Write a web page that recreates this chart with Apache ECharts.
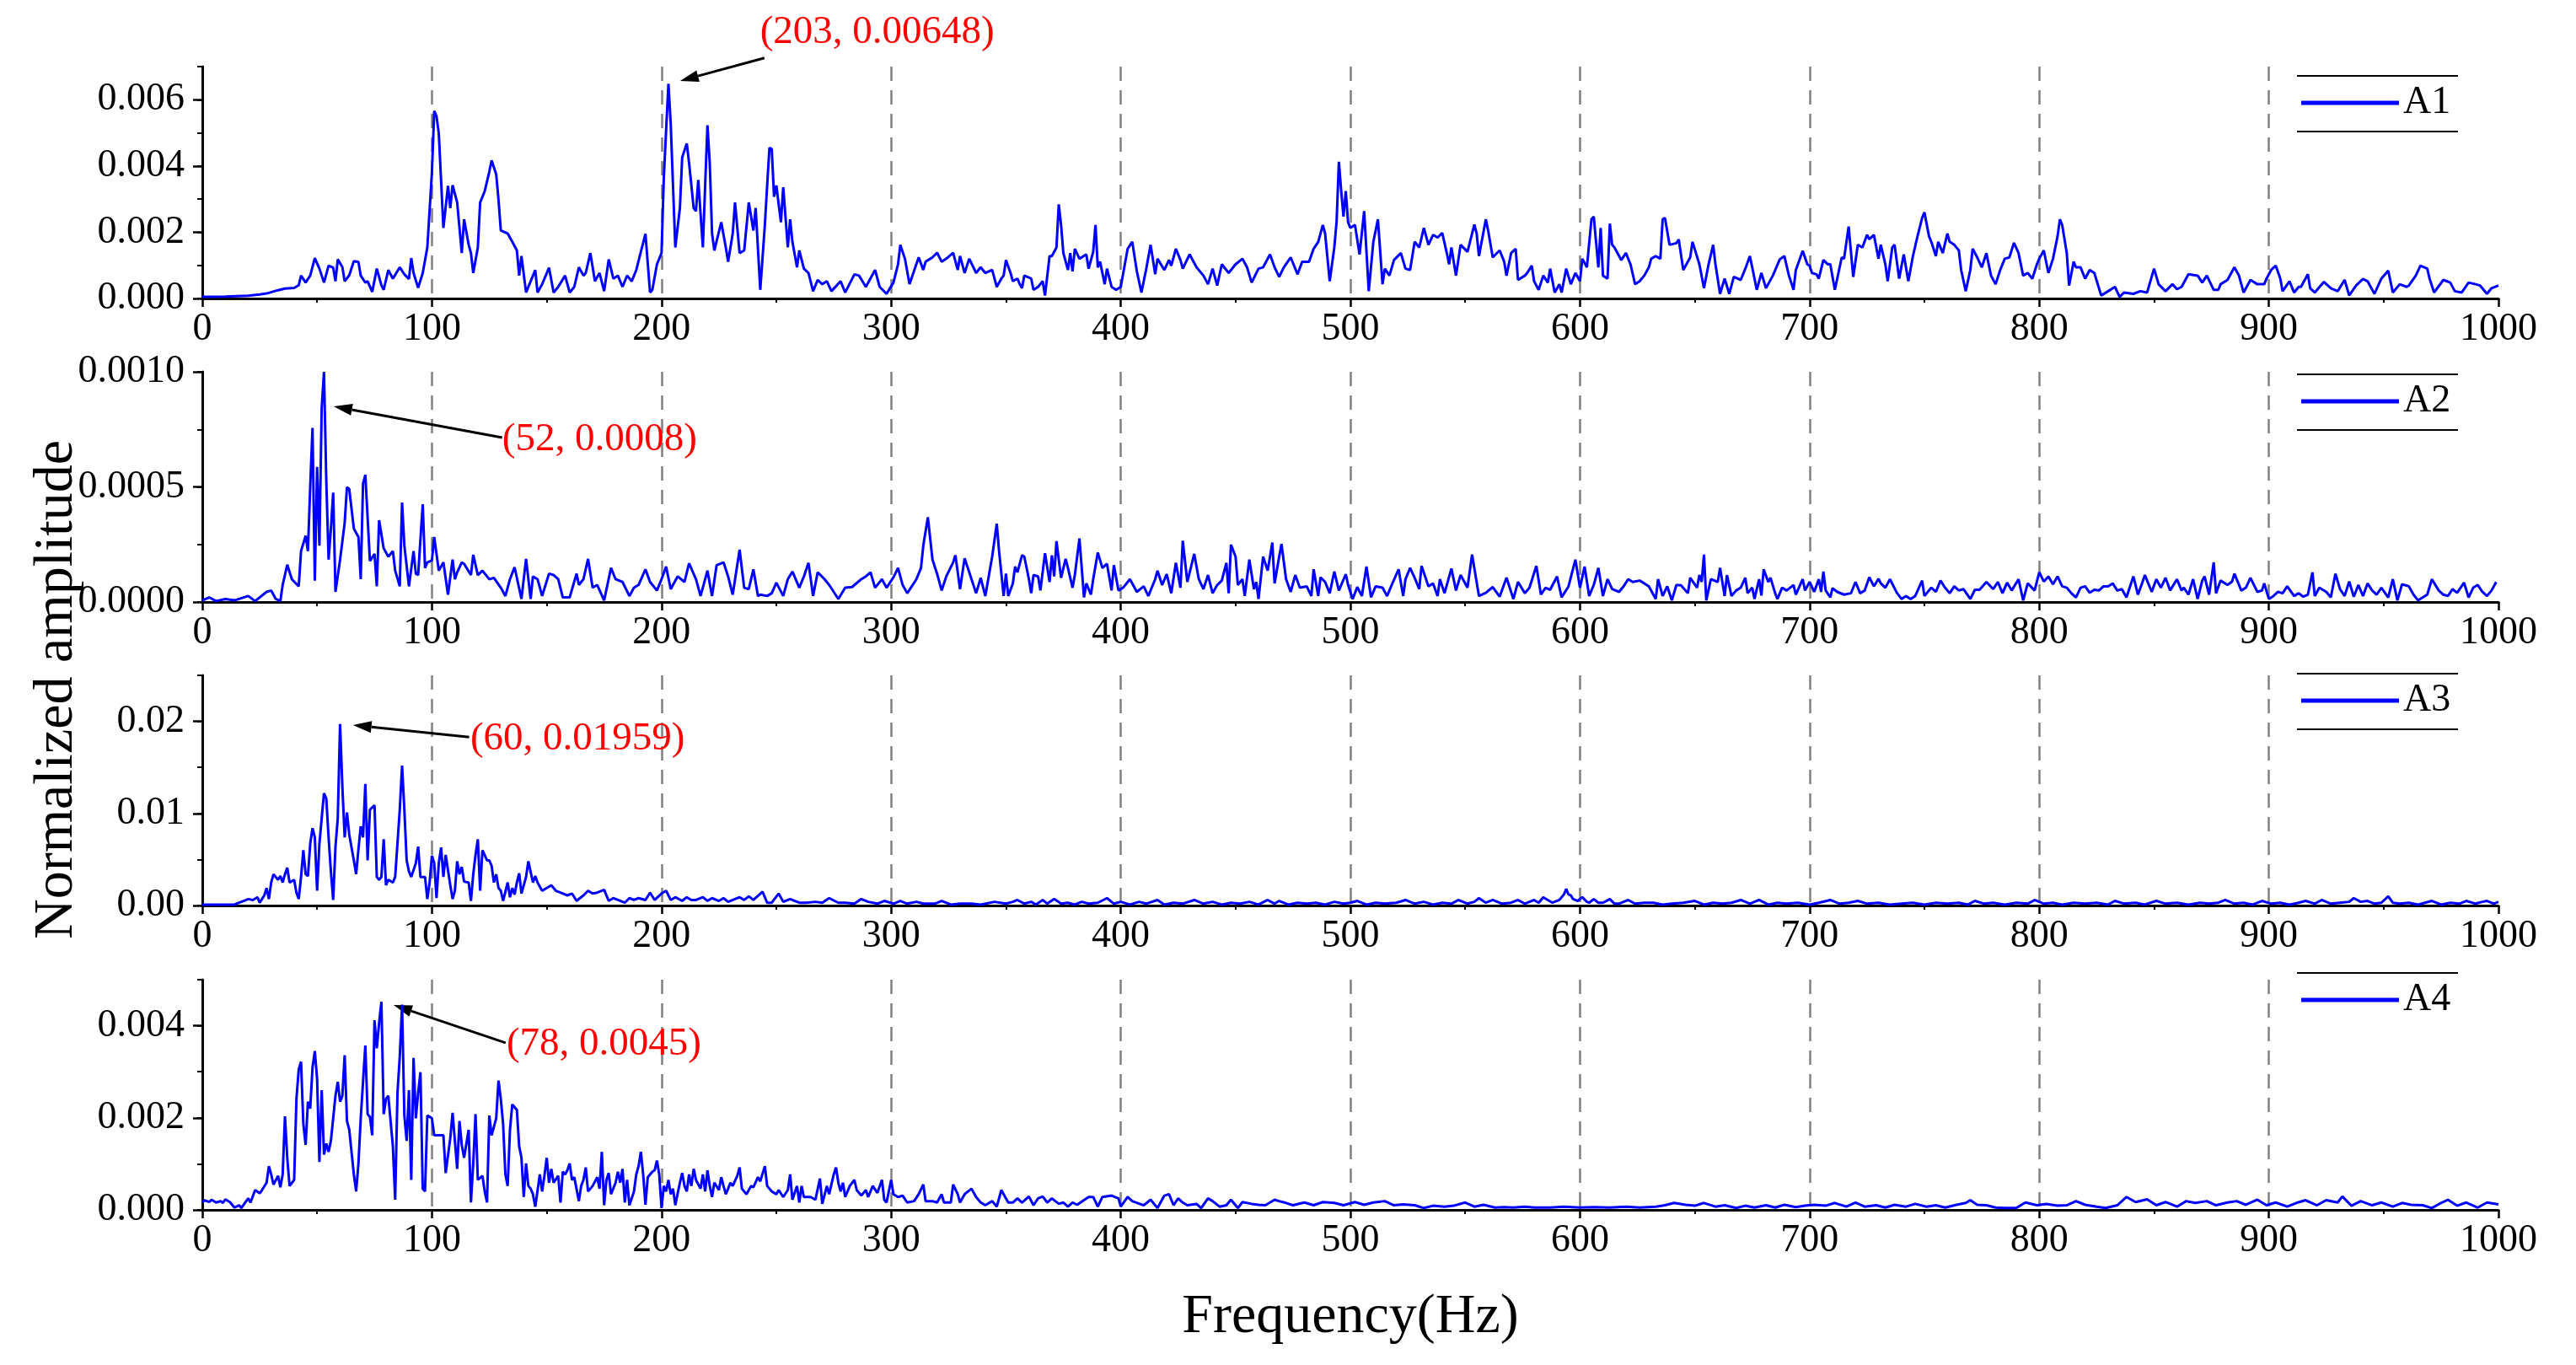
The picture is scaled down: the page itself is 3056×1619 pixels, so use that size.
<!DOCTYPE html>
<html>
<head>
<meta charset="utf-8">
<title>Normalized amplitude spectra A1-A4</title>
<script src="https://cdn.jsdelivr.net/npm/echarts@6/dist/echarts.min.js"></script>
<style>
  html, body { margin: 0; padding: 0; background: #fff; }
  #chart { width: 3056px; height: 1619px; }
</style>
</head>
<body>
<div id="chart"></div>
<script>
// Spectra as [frequency Hz, amplitude] pairs.
// Amplitudes are integers in the unit given in ampUnits (A1: 1e-5, A2: 1e-6, A3: 1e-4, A4: 1e-5).
const seriesNames = ['A1', 'A2', 'A3', 'A4'];
const ampUnits = [1e-5, 1e-6, 1e-4, 1e-5];

const A1 = [
  [0,5],[10,6],[20,8],[25,12],[28,15],[33,25],[36,30],[40,32],[42,40],[43,69],[45,48],[47,69],[49,122],[51,90],[53,48],[55,99],[57,93],[58,52],[59,118],[61,95],
  [62,52],[64,70],[66,113],[68,110],[69,69],[71,48],[72,52],[74,20],[76,90],[78,40],[79,26],[81,86],[83,60],[86,94],[88,73],[90,59],[91,122],[92,77],[94,32],[96,77],
  [98,154],[100,380],[101,566],[102,550],[103,498],[105,213],[107,340],[108,273],[109,342],[111,290],[113,137],[114,239],[116,162],[117,137],[118,77],[120,154],[121,290],[123,324],[125,383],[126,417],
  [128,375],[129,298],[130,205],[133,196],[135,171],[137,145],[138,69],[139,128],[141,18],[143,52],[145,86],[146,18],[148,43],[151,93],[153,18],[155,35],[158,69],[160,18],[162,35],[164,94],
  [166,69],[167,77],[169,137],[171,52],[173,77],[175,22],[177,118],[179,60],[181,69],[183,35],[185,69],[187,52],[189,86],[191,141],[193,195],[195,18],[196,26],[198,103],[200,137],[201,366],
  [203,648],[204,528],[206,154],[208,273],[209,426],[211,468],[212,409],[214,273],[215,264],[216,358],[218,154],[219,341],[220,523],[221,409],[222,196],[223,145],[226,230],[228,154],[229,111],[231,196],
  [232,290],[234,137],[236,145],[238,290],[240,205],[241,273],[243,26],[245,222],[246,341],[247,455],[248,451],[249,307],[250,341],[252,230],[253,336],[255,154],[256,239],[257,171],[259,94],[260,145],
  [262,90],[264,77],[266,22],[268,56],[270,43],[272,52],[274,22],[278,52],[280,18],[284,73],[286,69],[289,35],[293,86],[295,35],[298,14],[301,48],[303,103],[304,162],[306,120],[308,43],
  [312,124],[314,86],[315,111],[318,124],[320,138],[322,111],[324,120],[327,138],[329,86],[330,128],[332,77],[334,120],[337,77],[339,94],[341,77],[344,86],[346,35],[348,60],[349,69],[350,116],
  [352,77],[353,52],[355,60],[356,43],[357,31],[358,69],[361,60],[362,26],[364,35],[366,52],[367,9],[369,128],[370,128],[372,154],[373,284],[374,222],[375,137],[377,86],[378,137],[379,82],
  [380,150],[382,120],[385,133],[386,90],[388,141],[389,222],[390,94],[391,111],[393,43],[394,90],[396,35],[398,26],[400,35],[403,150],[405,171],[407,82],[409,18],[411,86],[413,162],[415,73],
  [416,120],[419,86],[421,116],[422,99],[424,150],[426,116],[427,90],[430,133],[433,94],[436,69],[438,43],[440,90],[442,39],[444,103],[447,77],[450,103],[453,120],[455,94],[457,48],[460,90],
  [462,94],[465,133],[467,94],[469,65],[471,94],[474,124],[477,73],[479,111],[482,111],[484,150],[486,171],[488,222],[489,196],[491,52],[493,154],[494,232],[495,413],[496,324],[497,247],[498,324],
  [499,230],[500,213],[502,222],[504,133],[506,264],[508,22],[510,171],[512,239],[514,43],[515,90],[517,69],[519,116],[522,137],[524,90],[526,86],[528,171],[530,154],[532,213],[534,162],[536,192],
  [538,184],[540,198],[542,137],[543,103],[544,154],[546,69],[548,162],[551,141],[554,223],[555,196],[556,128],[559,239],[560,205],[562,124],[565,145],[567,111],[568,69],[570,137],[572,150],[573,56],
  [576,69],[577,77],[579,99],[580,52],[582,26],[584,69],[586,48],[587,90],[589,18],[591,43],[592,18],[594,90],[596,43],[598,77],[600,52],[601,120],[603,94],[605,239],[606,247],[608,94],
  [609,213],[610,69],[612,60],[613,226],[614,162],[615,154],[618,116],[620,137],[622,103],[624,43],[626,52],[628,69],[630,94],[631,120],[633,128],[635,120],[636,239],[637,243],[639,162],[642,167],
  [643,178],[645,86],[648,124],[649,171],[652,103],[654,31],[656,103],[658,162],[659,103],[661,14],[663,60],[665,14],[667,65],[670,56],[672,90],[674,128],[677,26],[679,77],[681,31],[684,69],
  [687,118],[689,128],[691,69],[693,26],[694,86],[697,144],[699,103],[700,99],[701,77],[703,73],[704,60],[706,116],[708,103],[709,104],[711,26],[714,124],[715,120],[717,217],[719,65],[721,162],
  [723,154],[725,192],[726,179],[728,192],[730,120],[731,162],[733,103],[734,52],[736,154],[737,162],[739,60],[741,133],[743,52],[745,128],[747,188],[749,243],[750,260],[752,188],[753,171],[755,128],
  [756,171],[758,137],[760,196],[761,171],[763,162],[765,145],[766,86],[768,22],[770,86],[771,150],[773,124],[775,94],[777,137],[779,69],[781,43],[783,86],[785,120],[787,124],[789,168],[791,137],
  [793,69],[795,77],[797,60],[799,103],[800,120],[802,145],[804,77],[806,120],[808,188],[809,239],[810,222],[812,137],[813,39],[815,111],[816,94],[818,94],[820,60],[822,86],[824,77],[827,9],
  [830,22],[833,35],[835,5],[837,18],[841,14],[844,22],[847,18],[850,90],[852,43],[855,22],[858,43],[860,28],[862,35],[865,73],[869,69],[871,48],[873,69],[876,26],[878,26],[879,43],
  [882,56],[885,94],[887,69],[889,18],[892,56],[895,43],[898,43],[899,60],[901,86],[903,99],[905,60],[906,22],[909,52],[911,18],[913,35],[914,35],[917,73],[918,31],[920,18],[924,50],
  [927,31],[930,22],[933,56],[935,9],[938,39],[941,59],[943,52],[946,14],[949,60],[952,84],[954,18],[957,43],[960,35],[961,39],[964,69],[966,99],[969,90],[970,60],[972,18],[976,56],
  [979,48],[981,22],[984,18],[987,48],[990,43],[992,39],[995,14],[997,31],[1000,39]
];

const A2 = [
  [0,7],[3,20],[6,4],[10,13],[14,7],[20,26],[23,4],[28,44],[30,50],[32,13],[34,4],[35,74],[37,162],[39,99],[42,68],[43,221],[45,288],[46,221],[47,502],[48,756],
  [49,93],[50,587],[51,245],[52,844],[53,1000],[54,526],[55,184],[56,319],[57,475],[58,44],[60,184],[62,343],[63,499],[64,490],[66,319],[68,282],[69,99],[70,514],[71,553],[73,178],
  [75,209],[76,68],[77,355],[79,233],[81,197],[83,221],[84,136],[86,68],[87,432],[88,245],[90,68],[92,221],[93,123],[94,117],[96,425],[97,148],[98,172],[100,181],[101,282],[103,136],
  [105,172],[107,32],[109,184],[110,99],[111,129],[113,172],[114,166],[117,117],[118,205],[120,117],[122,136],[125,99],[127,105],[130,62],[132,26],[134,99],[136,151],[139,13],[141,187],[143,13],
  [144,111],[146,99],[148,26],[151,123],[153,117],[155,99],[157,20],[160,20],[163,123],[164,74],[166,99],[168,187],[170,62],[172,74],[175,7],[178,148],[180,99],[183,87],[186,26],[188,62],
  [190,74],[193,142],[195,87],[198,50],[200,99],[202,154],[204,56],[207,111],[210,87],[212,168],[215,99],[217,26],[220,136],[222,26],[224,160],[227,172],[229,111],[231,32],[234,227],[236,62],
  [238,56],[240,142],[242,26],[243,32],[246,26],[248,38],[250,84],[253,26],[255,99],[257,132],[260,62],[262,111],[264,170],[266,26],[268,129],[271,99],[273,74],[277,13],[280,62],[283,65],
  [287,99],[289,111],[291,129],[293,62],[296,99],[298,62],[301,107],[303,148],[305,74],[307,38],[311,99],[313,148],[314,245],[316,368],[318,184],[320,123],[322,50],[324,111],[327,172],[328,203],
  [330,56],[332,190],[335,99],[337,38],[339,105],[341,26],[344,197],[346,340],[347,221],[349,26],[350,123],[351,26],[353,81],[354,154],[355,129],[357,203],[358,197],[360,99],[361,38],[362,117],
  [364,111],[365,50],[367,212],[369,87],[370,203],[371,111],[372,264],[374,105],[376,187],[377,148],[379,62],[380,117],[382,276],[384,20],[385,81],[387,32],[388,99],[390,215],[392,148],[394,166],
  [396,50],[397,160],[399,50],[401,62],[404,99],[407,44],[410,68],[412,26],[415,99],[416,136],[418,74],[420,121],[422,38],[424,170],[426,62],[427,266],[429,87],[432,209],[434,99],[436,56],
  [438,117],[440,38],[442,74],[444,93],[446,170],[447,38],[448,249],[450,197],[451,74],[453,99],[454,26],[456,184],[458,56],[459,87],[460,13],[462,197],[464,136],[465,197],[466,258],[467,81],
  [469,197],[470,252],[472,99],[474,44],[476,117],[478,62],[481,68],[483,26],[484,142],[486,26],[487,107],[489,87],[491,38],[493,132],[495,50],[498,121],[499,74],[501,13],[503,65],[505,26],
  [507,154],[509,20],[511,68],[514,62],[516,26],[518,74],[521,142],[523,26],[524,99],[526,148],[528,105],[530,56],[531,157],[534,68],[536,81],[538,26],[539,99],[541,38],[544,145],[546,50],
  [548,117],[551,62],[553,206],[556,26],[559,40],[562,65],[565,23],[568,105],[571,13],[573,87],[576,38],[578,62],[581,157],[583,32],[585,62],[587,53],[590,111],[592,20],[595,68],[598,184],
  [600,62],[602,154],[604,26],[606,74],[608,148],[610,26],[612,99],[614,56],[617,44],[619,68],[621,99],[623,87],[626,93],[628,81],[630,68],[633,13],[634,99],[636,26],[638,68],[640,7],
  [642,74],[644,72],[647,38],[648,105],[651,62],[652,117],[653,87],[654,206],[655,7],[657,99],[660,87],[661,148],[663,26],[664,117],[666,26],[668,50],[670,62],[672,105],[673,38],[675,62],
  [676,13],[678,99],[679,28],[680,142],[682,87],[683,105],[685,38],[686,13],[688,62],[690,50],[693,74],[694,32],[697,99],[698,50],[700,87],[702,44],[704,99],[705,44],[706,132],[707,50],
  [709,20],[710,60],[712,44],[715,32],[718,38],[720,87],[722,38],[724,50],[726,107],[728,68],[730,101],[731,81],[733,62],[735,99],[738,40],[740,13],[742,26],[744,13],[746,26],[749,93],
  [750,26],[753,62],[755,44],[757,93],[759,62],[761,38],[763,68],[765,50],[767,56],[770,13],[772,53],[774,53],[777,87],[780,56],[782,87],[784,38],[786,84],[788,50],[791,99],[793,7],
  [795,81],[798,50],[800,129],[802,89],[804,111],[806,77],[808,111],[810,68],[812,62],[814,38],[816,20],[818,62],[820,68],[822,40],[824,53],[826,50],[828,68],[830,68],[832,81],[834,50],
  [836,56],[838,20],[841,111],[843,32],[845,87],[846,117],[849,44],[851,99],[853,62],[855,105],[857,50],[860,99],[862,50],[863,62],[865,32],[867,99],[869,13],[871,93],[872,111],[874,32],
  [876,172],[877,38],[879,93],[882,74],[884,89],[885,123],[888,50],[890,62],[892,105],[895,44],[897,50],[898,81],[900,13],[902,26],[904,44],[906,38],[908,68],[911,26],[913,38],[915,23],
  [917,32],[919,129],[920,26],[922,62],[925,44],[927,20],[929,123],[931,56],[933,26],[935,89],[937,23],[939,74],[941,26],[943,81],[945,50],[947,32],[949,62],[952,20],[954,99],[956,7],
  [958,77],[961,68],[963,32],[965,7],[968,26],[969,32],[971,99],[974,50],[976,32],[978,26],[980,56],[982,40],[985,84],[987,20],[989,62],[991,74],[993,44],[995,26],[997,50],[999,87]
];

const A3 = [
  [0,1],[14,1],[16,3],[18,5],[20,7],[22,6],[24,9],[25,3],[27,11],[28,19],[29,7],[30,25],[31,34],[33,28],[34,32],[35,25],[36,34],[37,41],[38,25],[40,28],
  [41,14],[42,7],[43,31],[44,60],[45,34],[46,32],[47,67],[48,84],[49,74],[50,16],[51,67],[52,95],[53,122],[54,116],[55,74],[56,37],[57,6],[58,64],[59,95],[60,197],
  [61,129],[62,74],[63,101],[64,77],[66,49],[67,34],[68,61],[69,86],[70,74],[71,132],[72,49],[73,104],[75,109],[76,31],[77,28],[78,31],[79,72],[80,22],[81,28],[83,25],
  [84,31],[86,104],[87,152],[88,104],[89,49],[90,37],[91,31],[93,46],[94,64],[95,31],[97,31],[98,7],[99,25],[100,54],[101,46],[102,8],[103,46],[104,63],[105,31],[106,55],
  [108,22],[109,7],[110,16],[111,48],[112,34],[113,42],[114,26],[116,25],[117,5],[118,34],[119,55],[120,72],[121,16],[122,60],[124,49],[125,49],[126,43],[127,25],[128,34],[129,19],
  [130,16],[131,5],[133,25],[134,9],[135,19],[136,12],[137,25],[138,35],[139,13],[141,31],[142,48],[144,25],[145,32],[146,25],[148,16],[150,19],[152,22],[154,16],[156,14],[159,11],
  [161,13],[163,5],[166,11],[168,16],[170,13],[172,14],[175,17],[177,5],[179,8],[181,6],[184,3],[186,8],[188,6],[190,8],[193,6],[195,14],[197,6],[200,13],[202,16],[204,6],
  [206,9],[209,5],[211,9],[213,6],[215,6],[218,9],[220,5],[222,8],[225,5],[227,8],[229,4],[231,6],[234,9],[236,6],[238,10],[240,6],[244,15],[246,3],[248,3],[251,13],
  [253,4],[256,7],[260,3],[263,3],[267,4],[270,3],[273,8],[277,3],[280,3],[284,2],[287,7],[290,4],[294,2],[297,5],[301,2],[304,5],[307,2],[311,4],[314,2],[319,2],
  [322,5],[326,1],[330,2],[335,2],[339,1],[345,4],[350,2],[353,4],[355,6],[358,2],[361,4],[363,1],[366,6],[368,2],[371,7],[374,2],[377,3],[380,1],[383,4],[386,2],
  [390,3],[394,8],[397,2],[400,4],[404,1],[408,4],[411,2],[416,6],[419,1],[423,3],[427,2],[432,6],[436,2],[440,4],[444,1],[448,3],[452,2],[456,4],[460,1],[464,6],
  [467,2],[469,5],[473,1],[477,3],[481,2],[485,3],[489,1],[493,4],[497,2],[500,3],[503,5],[507,1],[511,3],[515,2],[520,3],[524,6],[528,2],[532,4],[536,1],[540,3],
  [544,2],[547,6],[551,2],[554,4],[556,8],[559,3],[562,6],[566,2],[570,3],[573,6],[576,2],[580,6],[582,3],[584,9],[586,6],[588,3],[591,6],[593,12],[594,18],[595,12],
  [596,11],[597,7],[599,5],[601,9],[603,4],[604,3],[606,7],[608,3],[610,3],[613,7],[615,2],[617,2],[621,6],[624,2],[628,3],[632,3],[636,1],[640,2],[645,3],[650,5],
  [654,1],[658,3],[662,2],[666,3],[670,6],[674,2],[678,6],[682,1],[686,3],[690,2],[695,3],[700,1],[704,3],[709,6],[713,2],[717,3],[721,5],[725,2],[730,3],[735,1],
  [740,2],[745,3],[750,1],[755,3],[760,2],[765,3],[769,1],[772,5],[776,2],[780,3],[785,1],[790,3],[795,2],[798,6],[802,2],[806,3],[810,1],[815,3],[820,2],[825,3],
  [830,1],[833,5],[837,2],[842,3],[846,1],[851,5],[855,2],[860,3],[865,1],[870,3],[874,2],[878,3],[881,6],[885,2],[889,3],[893,1],[897,5],[901,2],[905,3],[909,1],
  [913,3],[916,5],[920,2],[923,6],[927,2],[931,3],[935,4],[937,8],[940,4],[943,5],[946,2],[949,3],[952,10],[954,3],[957,2],[961,3],[965,1],[968,3],[971,5],[975,1],
  [979,3],[983,2],[986,5],[990,2],[993,4],[995,5],[998,2],[1000,4]
];

const A4 = [
  [0,16],[1,21],[3,17],[4,22],[6,16],[8,19],[9,15],[10,23],[12,17],[14,5],[16,10],[17,4],[18,11],[20,25],[21,16],[23,43],[25,36],[26,43],[28,59],[29,95],
  [30,77],[31,55],[33,74],[34,49],[35,77],[36,203],[37,113],[38,52],[40,65],[41,241],[42,305],[43,322],[44,187],[45,141],[46,235],[47,220],[48,309],[49,345],[50,284],[51,104],
  [52,260],[53,120],[54,144],[55,126],[56,150],[58,248],[59,278],[60,235],[61,248],[62,336],[63,193],[64,174],[66,77],[67,40],[68,101],[69,199],[70,278],[71,357],[72,208],[73,202],
  [74,162],[75,412],[76,351],[77,406],[78,452],[79,208],[80,241],[81,248],[83,138],[84,22],[85,254],[86,333],[87,446],[88,205],[89,150],[90,260],[91,65],[92,330],[93,199],[94,254],
  [95,299],[96,46],[97,40],[98,205],[100,199],[101,162],[103,162],[105,162],[106,80],[108,156],[109,211],[110,150],[111,89],[112,193],[113,141],[114,113],[116,174],[117,16],[118,101],[119,208],
  [120,65],[122,74],[123,40],[124,16],[125,205],[126,162],[128,199],[129,281],[130,241],[131,187],[132,77],[133,52],[134,174],[135,229],[137,217],[138,138],[139,113],[140,28],[141,101],[142,52],
  [143,46],[144,34],[145,7],[147,77],[148,40],[149,74],[150,113],[151,59],[152,89],[153,59],[155,74],[156,16],[157,83],[158,77],[159,86],[160,101],[161,65],[162,71],[164,19],[165,52],
  [166,65],[167,92],[168,40],[169,46],[170,52],[172,71],[173,46],[174,126],[175,10],[176,65],[177,80],[178,34],[180,59],[181,83],[182,59],[183,89],[184,16],[185,65],[186,10],[188,40],
  [189,77],[190,95],[191,126],[192,77],[193,11],[194,71],[196,83],[197,86],[198,107],[199,77],[200,4],[201,52],[202,40],[203,65],[204,34],[205,46],[206,10],[208,59],[209,80],[210,52],
  [211,40],[212,77],[213,52],[214,89],[215,65],[217,46],[218,77],[219,40],[220,86],[221,52],[222,28],[223,59],[225,43],[226,71],[227,52],[228,34],[229,46],[230,59],[231,52],[233,74],
  [234,92],[235,46],[237,34],[239,52],[240,49],[242,71],[243,62],[245,95],[246,52],[248,40],[250,34],[251,43],[253,28],[255,43],[256,77],[257,22],[259,52],[260,16],[261,52],[262,28],
  [264,28],[265,28],[267,22],[269,68],[270,13],[272,52],[273,34],[275,77],[276,92],[277,59],[278,40],[279,59],[280,28],[282,52],[284,65],[285,43],[287,31],[289,43],[290,28],[292,52],
  [294,37],[296,65],[297,22],[298,16],[300,65],[301,34],[303,28],[305,31],[307,16],[310,19],[312,34],[314,55],[315,19],[318,19],[320,16],[322,34],[323,16],[326,16],[327,55],[329,34],
  [330,16],[332,34],[335,46],[337,28],[339,16],[341,10],[344,19],[346,7],[348,43],[349,34],[351,16],[353,16],[355,25],[357,16],[360,29],[362,10],[364,25],[366,29],[368,16],[370,25],
  [373,13],[375,16],[377,7],[379,16],[381,11],[386,28],[388,28],[390,7],[392,28],[396,31],[399,25],[400,7],[403,28],[405,19],[410,10],[413,22],[416,4],[419,31],[421,34],[423,10],
  [425,25],[427,16],[429,10],[433,13],[435,4],[438,25],[440,19],[443,7],[446,10],[448,22],[451,4],[453,17],[457,13],[460,11],[463,10],[467,22],[469,19],[472,15],[475,10],[480,16],
  [484,10],[488,17],[493,15],[497,10],[502,17],[506,11],[510,16],[515,19],[519,10],[523,12],[528,10],[532,4],[536,9],[541,7],[545,9],[550,16],[554,7],[558,11],[563,5],[567,6],
  [571,5],[576,7],[580,5],[587,5],[593,7],[600,5],[606,6],[613,5],[620,7],[626,5],[633,7],[637,10],[641,15],[646,11],[650,9],[654,15],[659,7],[663,10],[668,4],[672,9],
  [676,5],[681,10],[685,5],[689,11],[694,6],[698,9],[702,11],[707,9],[711,15],[716,7],[720,16],[724,7],[729,10],[733,5],[737,11],[742,7],[746,13],[751,7],[755,10],[759,5],
  [764,11],[768,15],[770,21],[773,11],[777,10],[781,5],[785,4],[790,4],[794,16],[799,10],[803,13],[808,9],[812,10],[816,19],[820,11],[825,7],[829,4],[834,10],[838,28],[842,17],
  [847,23],[851,10],[855,17],[860,7],[864,19],[868,15],[873,19],[877,10],[882,16],[886,19],[890,11],[895,22],[899,10],[903,16],[908,7],[912,15],[916,21],[921,10],[925,21],[930,16],
  [932,29],[936,9],[940,19],[945,10],[949,16],[954,7],[958,15],[962,11],[967,10],[971,4],[975,15],[978,22],[982,9],[986,16],[991,5],[995,16],[1000,12]
];

const spectra = [A1, A2, A3, A4];

// y axes: top of each panel, minor tick step and labelled values
const yMax = [0.007, 0.001, 0.025, 0.005];
const yStep = [0.001, 0.00025, 0.005, 0.001];
const yLabelValues = [[0, 0.002, 0.004, 0.006], [0, 0.0005, 0.001], [0, 0.01, 0.02], [0, 0.002, 0.004]];
const yDecimals = [3, 4, 2, 3];

// peak call-outs (data coordinates of the arrow tail, arrow tip and text anchor)
const peakTexts = ['(203, 0.00648)', '(52, 0.0008)', '(60, 0.01959)', '(78, 0.0045)'];
const arrowFrom = [[244.8, 0.00726], [130.6, 0.000714], [116.2, 0.01829], [132.1, 0.00363]];
const arrowTo = [[208.1, 0.00657], [57.2, 0.00085], [65.6, 0.0196], [83.3, 0.00445]];
const textAt = [[242.9, 0.00802], [130.6, 0.000703], [116.7, 0.01804], [132.5, 0.00359]];

const FONT = '"Liberation Serif", "Times New Roman", serif';
const BLUE = '#0000ff';

// layout (px)
const gridTops = [79, 441, 801, 1162];
const gridHeights = [275, 273, 273, 273];
const legendCenters = [123, 477, 832, 1187];
// rules above and below the legend entries (A4 only has the top one)
const legendRules = [90, 156, 444, 510, 799, 865, 1154];

const chart = echarts.init(document.getElementById('chart'), null, { renderer: 'canvas' });

const grids = [], xAxes = [], yAxes = [], series = [], legends = [];

spectra.forEach((pairs, i) => {
  grids.push({ left: 240, right: 92, top: gridTops[i], height: gridHeights[i], outerBoundsMode: 'none' });

  const xAxis = {
    gridIndex: i, type: 'value', min: 0, max: 1000, interval: 100,
    axisLine: { onZero: false, lineStyle: { color: '#000', width: 3 } },
    axisTick: { show: true, length: 10, lineStyle: { color: '#000', width: 2.5 } },
    minorTick: { show: true, splitNumber: 2, length: 5, lineStyle: { color: '#000', width: 2 } },
    axisLabel: { formatter: v => String(v), fontFamily: FONT, fontSize: 46, color: '#000', margin: 14 },
    splitLine: { show: true, showMinLine: false, showMaxLine: false,
      lineStyle: { color: '#808080', width: 2.5, type: [17, 11] } }
  };
  if (i === 3) {
    xAxis.name = 'Frequency(Hz)';
    xAxis.nameLocation = 'middle';
    xAxis.nameGap = 95;
    xAxis.nameTextStyle = { fontFamily: FONT, fontSize: 66, color: '#000' };
  }
  xAxes.push(xAxis);

  // labelled axis with long ticks
  yAxes.push({
    gridIndex: i, type: 'value', position: 'left', min: 0, max: yMax[i], interval: yStep[i],
    axisLine: { show: true, lineStyle: { color: '#000', width: 3 } },
    axisTick: { show: true, length: 11, customValues: yLabelValues[i], lineStyle: { color: '#000', width: 2.5 } },
    axisLabel: { customValues: yLabelValues[i], formatter: v => v.toFixed(yDecimals[i]),
      fontFamily: FONT, fontSize: 46, color: '#000', margin: 21 },
    splitLine: { show: false }
  });
  // short ticks at every step
  yAxes.push({
    gridIndex: i, type: 'value', position: 'left', min: 0, max: yMax[i], interval: yStep[i],
    axisLine: { show: false },
    axisTick: { show: true, length: 6, lineStyle: { color: '#000', width: 2 } },
    axisLabel: { show: false },
    splitLine: { show: false }
  });

  series.push({
    name: seriesNames[i], type: 'line', xAxisIndex: i, yAxisIndex: 2 * i,
    data: pairs.map(p => [p[0], p[1] * ampUnits[i]]),
    symbol: 'none', showSymbol: false, clip: false, animation: false,
    lineStyle: { color: BLUE, width: 3 }, itemStyle: { color: BLUE }
  });

  legends.push({
    data: [{ name: seriesNames[i], icon: 'rect' }], left: 2730, top: legendCenters[i] - 24, padding: 0,
    selectedMode: false, itemWidth: 116, itemHeight: 5,
    textStyle: { fontFamily: FONT, fontSize: 46, color: '#000' }
  });
});

chart.setOption({
  backgroundColor: '#fff',
  animation: false,
  grid: grids,
  xAxis: xAxes,
  yAxis: yAxes,
  legend: legends,
  series: series
});

// decorations: legend rules, y-axis title, and the peak call-outs placed through the axes
const graphics = legendRules.map(y => ({
  type: 'line', silent: true,
  shape: { x1: 2725, y1: y, x2: 2916, y2: y },
  style: { stroke: '#000', lineWidth: 2 }
}));
graphics.push({
  type: 'text', silent: true, x: 68, y: 818, rotation: Math.PI / 2,
  style: { text: 'Normalized amplitude', fontFamily: FONT, fontSize: 66, fill: '#000',
    align: 'center', verticalAlign: 'middle' }
});

spectra.forEach((pairs, i) => {
  const finder = { seriesIndex: i };
  const p0 = chart.convertToPixel(finder, arrowFrom[i]);
  const p1 = chart.convertToPixel(finder, arrowTo[i]);
  const pt = chart.convertToPixel(finder, textAt[i]);
  const dx = p1[0] - p0[0], dy = p1[1] - p0[1];
  const len = Math.hypot(dx, dy), ux = dx / len, uy = dy / len;
  const headLen = 22, headHalf = 7;
  const bx = p1[0] - ux * headLen, by = p1[1] - uy * headLen;
  graphics.push({
    type: 'line', silent: true,
    shape: { x1: p0[0], y1: p0[1], x2: bx, y2: by },
    style: { stroke: '#000', lineWidth: 3 }
  });
  graphics.push({
    type: 'polygon', silent: true,
    shape: { points: [[p1[0], p1[1]], [bx - uy * headHalf, by + ux * headHalf], [bx + uy * headHalf, by - ux * headHalf]] },
    style: { fill: '#000' }
  });
  graphics.push({
    type: 'text', silent: true, x: pt[0], y: pt[1],
    style: { text: peakTexts[i], fontFamily: FONT, fontSize: 47, fill: '#ff0000',
      align: 'left', verticalAlign: 'middle' }
  });
});

chart.setOption({ graphic: graphics });

window.addEventListener('resize', () => chart.resize());
</script>
</body>
</html>
